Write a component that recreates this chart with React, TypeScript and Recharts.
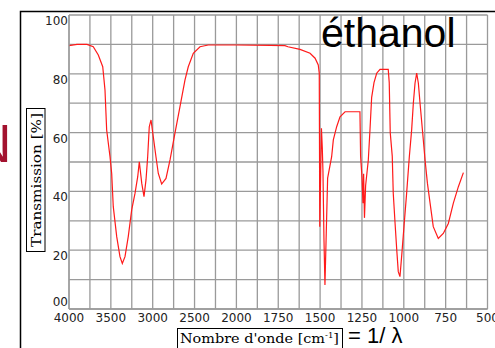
import React from 'react';
import { LineChart, Line, XAxis, YAxis, CartesianGrid } from 'recharts';

// IR spectrum of ethanol (wavenumber in cm-1, transmission in %)
const wavenumbers = [
  4000, 3904, 3785, 3710, 3650, 3597, 3570, 3550, 3510, 3490, 3471, 3430, 3391, 3363, 3331,
  3292, 3251, 3211, 3179, 3160, 3131, 3104, 3080, 3060, 3041, 3020, 2993, 2961, 2933, 2893,
  2841, 2793, 2734, 2674, 2614, 2575, 2515, 2435, 2336, 2000, 1800, 1710, 1692, 1620, 1560,
  1530, 1511, 1505, 1502, 1492, 1487, 1483, 1477, 1471, 1455, 1431, 1421, 1401, 1381, 1351,
  1262, 1258, 1250, 1244, 1240, 1235, 1228, 1212, 1202, 1192, 1178, 1162, 1142, 1093, 1087,
  1081, 1069, 1063, 1052, 1042, 1033, 1023, 1013, 999, 983, 967, 953, 943, 933, 923,
  913, 903, 887, 873, 859, 843, 824, 794, 764, 734, 704, 674, 644,
];
const transmission = [
  89.6, 90, 90, 89.2, 86.4, 82.4, 74.5, 60.9, 51.8, 46.1, 34.8, 24.6, 17.8, 15.5, 17.8,
  24.6, 33.7, 39.4, 45, 50.1, 42.8, 38.2, 43.9, 51.8, 62, 64.3, 58.6, 51.8, 46.1, 42.5,
  44.4, 50.7, 59.8, 68.8, 77.9, 82.4, 87, 89.2, 89.8, 89.8, 89.7, 89.6, 89.2, 88.3, 87,
  85.3, 83, 80.2, 28, 61.5, 55, 47, 24, 8.2, 44.5, 51.8, 57.5, 62, 65.4, 67.1,
  67.1, 52, 45, 36, 46, 31, 42, 50.7, 61, 72, 77, 80.2, 81.5, 81.5, 77,
  60, 52, 39.4, 29, 20, 12.7, 11, 17.8, 28, 39.4, 51.8, 61, 70, 76.8, 80.2,
  76.8, 70, 59.8, 50.7, 42.8, 36, 28, 24, 25.7, 29.1, 36, 41.6, 46.4,
];

// axis labels, one every two grid cells
const xTickLabels = ['4000', '3500', '3000', '2500', '2000', '1750', '1500', '1250', '1000', '750', '500'];
const yTickLabels = ['00', '20', '40', '60', '80', '100'];

// the wavenumber axis is squeezed by 2 above 2000 cm-1: 250 cm-1 per cell there, 125 below
const toPos = (w: number) => (w >= 2000 ? (4000 - w) / 250 : 8 + (2000 - w) / 125);

const data = wavenumbers.map((w, i) => ({ pos: toPos(w), t: transmission[i] }));

const xTicks = Array.from({ length: 21 }, (_, i) => i);
const yTicks = Array.from({ length: 11 }, (_, i) => i * 10);

const GRID = '#9a9a9a';
const TICK_FONT = 'DejaVu Sans';

const XTick = (props: any) => {
  const { x, y, payload } = props;
  const v = payload.value;
  const label = v % 2 === 0 ? xTickLabels[v / 2] : '';
  return (
    <text x={x} y={y + 13} textAnchor="middle" fontFamily={TICK_FONT} fontSize={12} fill="#222">
      {label}
    </text>
  );
};

const YTick = (props: any) => {
  const { x, y, payload } = props;
  const v = payload.value;
  const label = v % 20 === 0 ? yTickLabels[v / 20] : '';
  return (
    <text x={x} y={v === 0 ? y - 3 : y + 10} textAnchor="end" fontFamily={TICK_FONT} fontSize={12} fill="#222">
      {label}
    </text>
  );
};

export default function App() {
  return (
    <div style={{ position: 'absolute', left: 0, top: 0, width: 495, height: 348, background: '#fff', overflow: 'hidden' }}>
      <LineChart width={495} height={348} data={data} margin={{ top: 15, right: 7.5, bottom: 0, left: 0 }}>
        <CartesianGrid stroke={GRID} strokeWidth={1.3} />
        <XAxis
          dataKey="pos"
          type="number"
          domain={[0, 20]}
          ticks={xTicks}
          interval={0}
          height={39}
          tickSize={0}
          tickMargin={0}
          tickLine={false}
          axisLine={{ stroke: GRID, strokeWidth: 1.3 }}
          tick={<XTick />}
        />
        <YAxis
          type="number"
          domain={[0, 100]}
          ticks={yTicks}
          interval={0}
          width={69}
          tickSize={0}
          tickMargin={1}
          tickLine={false}
          axisLine={{ stroke: GRID, strokeWidth: 1.3 }}
          tick={<YTick />}
        />
        <Line
          dataKey="t"
          type="linear"
          stroke="#ff1a1a"
          strokeWidth={1.2}
          dot={false}
          isAnimationActive={false}
        />
      </LineChart>
      <svg
        width={495}
        height={348}
        style={{ position: 'absolute', left: 0, top: 0, pointerEvents: 'none' }}
      >
        {/* outer frame */}
        <path d="M20.5 360 V11.5 H500" fill="none" stroke="#000" strokeWidth={1.5} />
        <text x={-27.5} y={162} fontFamily="Liberation Sans" fontSize={54} fill="#a3122f">N</text>
        <text x={321} y={46.5} fontFamily="Liberation Sans" fontSize={41} fill="#000">éthanol</text>
        {/* y axis title */}
        <rect x={26.5} y={108.5} width={18.5} height={143} fill="#fff" stroke="#000" strokeWidth={1} />
        <text
          transform="translate(40.5,180) rotate(-90)"
          textAnchor="middle"
          fontFamily="DejaVu Serif"
          fontSize={13.5}
          textLength={134}
          lengthAdjust="spacingAndGlyphs"
          fill="#000"
        >
          Transmission [%]
        </text>
        {/* x axis title */}
        <rect x={177.5} y={328.5} width={165} height={30} fill="#fff" stroke="#000" strokeWidth={1} />
        <text
          x={180}
          y={343}
          fontFamily="DejaVu Serif"
          fontSize={13.5}
          textLength={159}
          lengthAdjust="spacingAndGlyphs"
          fill="#000"
        >
          Nombre d'onde [cm<tspan fontSize={8} dy={-5}>-1</tspan><tspan dy={5}>]</tspan>
        </text>
        <text x={348} y={343} fontFamily="Liberation Sans" fontSize={22} fill="#000">= 1/ λ</text>
      </svg>
    </div>
  );
}
